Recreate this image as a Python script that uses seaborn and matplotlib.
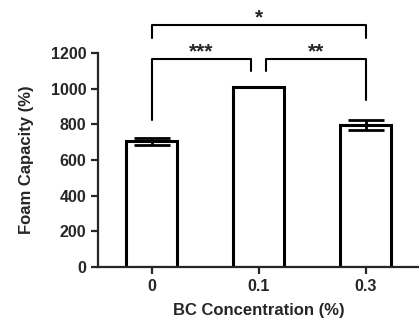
import pandas as pd
import matplotlib.pyplot as plt
import seaborn as sns

conc = ['0', '0.1', '0.3']
foam = [705, 1010, 797]
sd = [18, 0, 28]

sns.set_style('ticks')
plt.rcParams['font.family'] = ['Liberation Sans', 'DejaVu Sans']
plt.rcParams['font.weight'] = 'bold'

df = pd.DataFrame({'conc': conc, 'foam': foam, 'sd': sd})

fig = plt.figure(figsize=(4.19, 3.2), dpi=100)
ax = fig.add_axes([0.234, 0.166, 0.766, 0.668])

sns.barplot(x='conc', y='foam', data=df, color='white', edgecolor='black',
            linewidth=2.2, width=0.48, errorbar=None, ax=ax)
ax.errorbar(range(len(conc)), df['foam'], yerr=df['sd'], fmt='none',
            ecolor='black', elinewidth=2, capsize=13, capthick=2, zorder=1)

ax.set_xlim(-0.5, 2.5)
ax.set_ylim(0, 1200)
ax.set_yticks(range(0, 1201, 200))
ax.set_xlabel('BC Concentration (%)', fontsize=12, fontweight='bold', labelpad=7)
ax.set_ylabel('Foam Capacity (%)', fontsize=12, fontweight='bold', labelpad=12)
ax.tick_params(axis='both', labelsize=11.5, width=1.6, length=5)
for lab in ax.get_xticklabels() + ax.get_yticklabels():
    lab.set_fontweight('bold')
for s in ['left', 'bottom']:
    ax.spines[s].set_linewidth(1.6)
sns.despine(ax=ax)


# significance brackets
def bracket(x1, x2, y, y1, y2, label):
    ax.plot([x1, x1, x2, x2], [y1, y, y, y2], color='black', lw=1.5,
            clip_on=False)
    ax.text((x1 + x2) / 2, y - 15, label, ha='center', va='bottom',
            fontsize=15, fontweight='bold', clip_on=False)


bracket(0, 2, 1357, 1284, 1284, '*')
bracket(0, 0.93, 1167, 824, 1100, '***')
bracket(1.07, 2, 1167, 1100, 937, '**')

plt.savefig('out.png', dpi=100)
